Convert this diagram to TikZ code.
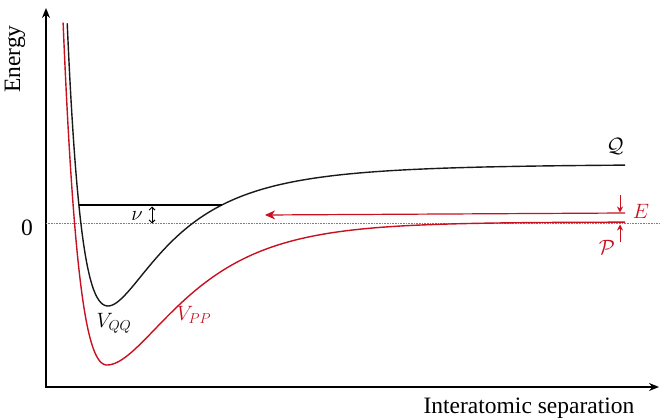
\documentclass[tikz,border=0pt]{standalone}
\usepackage{fontspec}
\setmainfont{Liberation Serif}
\usetikzlibrary{arrows.meta}
\definecolor{pred}{RGB}{200,16,30}
\begin{document}
\begin{tikzpicture}[x=1pt,y=-1pt,
  axis/.style={line width=1.5pt,{Stealth[length=10pt,width=8pt]}-{Stealth[length=10pt,width=8pt]}},
  curve/.style={line width=1.4pt},
  lbl/.style={font=\fontsize{23.5}{26}\selectfont, inner sep=0pt},
  mlbl/.style={font=\fontsize{22}{26}\selectfont, inner sep=0pt},
  smallarrow/.style={pred, line width=1pt, -{Stealth[length=6pt,width=6pt]}}]
\useasboundingbox (0,0) rectangle (667,420);
% axes
\coordinate (ytop) at (46,8);
\coordinate (O) at (46,387);
\coordinate (xend) at (659,387);
\draw[axis] (ytop) -- (O) -- (xend);
% zero line
\coordinate (zl) at (46,223);
\coordinate (zr) at (660,223);
\draw[gray, line width=0.6pt, dash pattern=on 0.8pt off 0.8pt] (zl) -- (zr);
% curves
\draw[curve, black!90] plot[domain=67.2:625, samples=300, smooth] (\x, {306 - 142*(1 - pow(250/(\x+142),4.94))^2});
\draw[curve, pred] plot[domain=63.1:107, samples=80, smooth] (\x, {365 - 143*(1-exp(-0.0213*(\x-107)))^2})
  -- plot[domain=107:625, samples=200, smooth] (\x, {365 - 143*(1-exp(-0.0145*(\x-107)))^2});
% nu level
\coordinate (nul) at (79,205);
\coordinate (nur) at (222,205);
\draw[line width=2pt] (nul) -- (nur);
\coordinate (nua) at (152,206.5);
\coordinate (nub) at (152,223.5);
\draw[line width=0.9pt, {Straight Barb[length=3pt,width=6pt]}-{Straight Barb[length=3pt,width=6pt]}] (nua) -- (nub);
% E arrow
\coordinate (Es) at (625,213);
\coordinate (Ee) at (265,215);
\draw[pred, line width=1.2pt, -{Stealth[length=10pt,width=9pt,inset=3pt]}] (Es) -- (Ee);
\coordinate (ea1) at (620,195);
\coordinate (ea2) at (620,212.5);
\draw[smallarrow] (ea1) -- (ea2);
\coordinate (pa1) at (620,242);
\coordinate (pa2) at (620,224.5);
\draw[smallarrow] (pa1) -- (pa2);
% labels
\node[mlbl] (Q) at (615,146) {$\mathcal{Q}$};
\node[mlbl, text=pred] (E) at (641,211) {$E$};
\node[mlbl, text=pred] (P) at (607,247) {$\mathcal{P}$};
\node[mlbl] (nu) at (137,216) {$\nu$};
\node[mlbl] (VQQ) at (114,323) {$V_{QQ}$};
\node[mlbl, text=pred] (VPP) at (194,315) {$V_{PP}$};
\node[lbl] (xl) at (529,408) {Interatomic separation};
\node[lbl, rotate=90] (yl) at (15,59) {Energy};
\node[lbl] (zero) at (27,228) {0};
\end{tikzpicture}
\end{document}
